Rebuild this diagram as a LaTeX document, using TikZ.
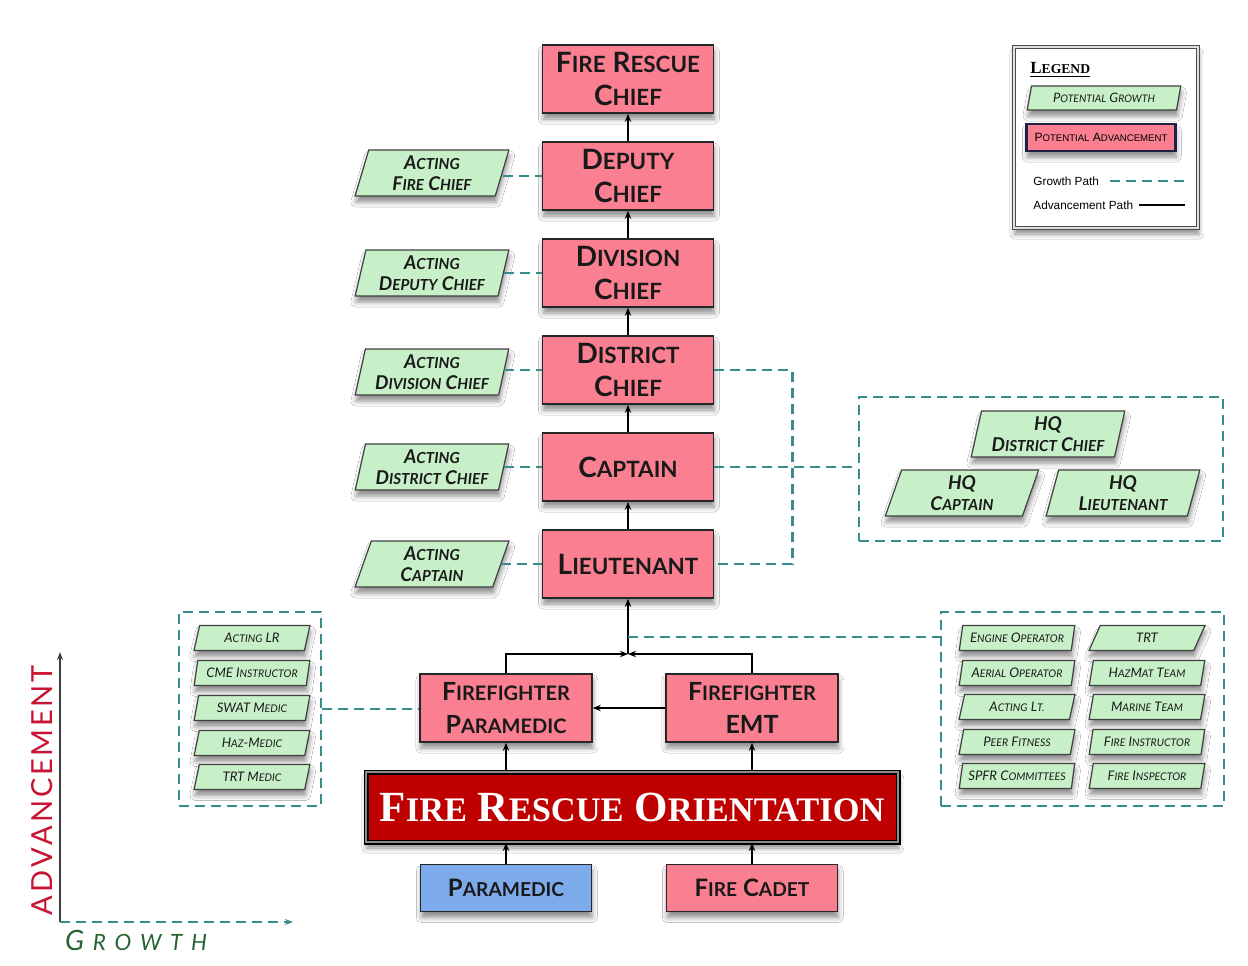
\documentclass[tikz,border=0pt]{standalone}
\usepackage{fontspec}
\newfontfamily\lato{Lato}
\newfontfamily\libsans{Liberation Sans}
\newfontfamily\libserif{Liberation Serif}
\usetikzlibrary{shapes.geometric,shadows.blur,arrows.meta}
\makeatletter
\newcommand\smc[1]{{\@tempdima=\f@size pt\relax\@tempdima=0.8\@tempdima\edef\smcsz{\strip@pt\@tempdima}\fontsize{\smcsz}{\smcsz}\selectfont #1}}
\makeatother
\definecolor{pinkc}{RGB}{250,128,145}
\definecolor{greenc}{RGB}{200,240,200}
\definecolor{bluec}{RGB}{125,170,235}
\definecolor{froc}{RGB}{190,0,0}
\definecolor{tealc}{RGB}{55,140,140}
\definecolor{advred}{RGB}{200,20,50}
\definecolor{grgreen}{RGB}{40,100,50}
\definecolor{navyc}{RGB}{30,35,70}
\begin{document}
\begin{tikzpicture}[x=0.5pt,y=-0.5pt,
  shad/.style={blur shadow={shadow xshift=0.4pt,shadow yshift=-3pt,shadow blur radius=2.5pt,shadow opacity=45}},
  advbox/.style={rectangle,draw=black!85,line width=0.8pt,fill=pinkc,text=black!90,minimum width=85.5pt,minimum height=34pt,inner sep=1pt,align=center,font=\lato\bfseries\fontsize{14}{16.5}\selectfont,shad},
  ffbox/.style={advbox,minimum width=86pt,font=\lato\bfseries\fontsize{12.5}{16.5}\selectfont},
  entrybox/.style={advbox,minimum height=23.5pt,font=\lato\bfseries\fontsize{12}{14}\selectfont},
  frobox/.style={rectangle,draw=black,line width=0.9pt,double=black!45,double distance=0.7pt,fill=froc,text=white,minimum width=266pt,minimum height=35pt,inner sep=1pt,font=\libserif\bfseries\fontsize{21.5}{24}\selectfont,shad},
  growbox/.style={trapezium,trapezium left angle=77,trapezium right angle=103,trapezium stretches=true,draw=black!75,line width=0.6pt,fill=greenc,text=black!90,minimum width=77pt,minimum height=23pt,inner sep=1pt,align=center,font=\lato\bfseries\itshape\fontsize{9.5}{10.5}\selectfont,shad},
  smallgrow/.style={growbox,minimum width=58pt,minimum height=12.5pt,font=\lato\itshape\fontsize{6.6}{7}\selectfont},
  gpath/.style={draw=tealc,line width=1.4pt,dash pattern=on 5pt off 3pt},
  apath/.style={draw=black,line width=0.75pt,-{Stealth[length=4pt,width=3.2pt]}},
  gbox/.style={rectangle,gpath,inner sep=0pt},
  legtext/.style={anchor=west,inner sep=0pt,font=\libsans\fontsize{5.9}{7}\selectfont}
]
\useasboundingbox (0,0) rectangle (1248,965);
\fill[white] (0,0) rectangle (1248,965);

% group boxes
\node[gbox,minimum width=182pt,minimum height=72pt] (hq) at (1041,469) {};
\node[gbox,minimum width=71pt,minimum height=97pt] (lg) at (250,709) {};
\node[gbox,minimum width=141.5pt,minimum height=97pt] (rg) at (1082.5,709) {};

% main ladder
\node[advbox] (frc) at (628,79) {F\smc{IRE} R\smc{ESCUE}\\C\smc{HIEF}};
\node[advbox] (dep) at (628,176) {D\smc{EPUTY}\\C\smc{HIEF}};
\node[advbox] (div) at (628,273) {D\smc{IVISION}\\C\smc{HIEF}};
\node[advbox] (dis) at (628,370) {D\smc{ISTRICT}\\C\smc{HIEF}};
\node[advbox] (cap) at (628,467) {C\smc{APTAIN}};
\node[advbox] (lt) at (628,564) {L\smc{IEUTENANT}};
\node[ffbox] (ffp) at (506,708) {F\smc{IREFIGHTER}\\P\smc{ARAMEDIC}};
\node[ffbox] (ffe) at (752,708) {F\smc{IREFIGHTER}\\EMT};
\node[frobox] (fro) at (632,807) {F\smc{IRE} R\smc{ESCUE} O\smc{RIENTATION}};
\node[entrybox,fill=bluec] (par) at (506,888) {P\smc{ARAMEDIC}};
\node[entrybox] (cad) at (752,888) {F\smc{IRE} C\smc{ADET}};

% acting boxes
\node[growbox] (ag1) at (432,173) {A\smc{CTING}\\F\smc{IRE} C\smc{HIEF}};
\node[growbox] (ag2) at (432,273) {A\smc{CTING}\\D\smc{EPUTY} C\smc{HIEF}};
\node[growbox] (ag3) at (432,372) {A\smc{CTING}\\D\smc{IVISION} C\smc{HIEF}};
\node[growbox] (ag4) at (432,467) {A\smc{CTING}\\D\smc{ISTRICT} C\smc{HIEF}};
\node[growbox] (ag5) at (432,564) {A\smc{CTING}\\C\smc{APTAIN}};

% HQ
\node[growbox] (hq1) at (1048,434) {HQ\\D\smc{ISTRICT} C\smc{HIEF}};
\node[growbox] (hq2) at (962,493) {HQ\\C\smc{APTAIN}};
\node[growbox] (hq3) at (1123,493) {HQ\\L\smc{IEUTENANT}};

% left group
\node[smallgrow] (l1) at (252,638) {A\smc{CTING} LR};
\node[smallgrow] (l2) at (252,673) {CME I\smc{NSTRUCTOR}};
\node[smallgrow] (l3) at (252,708) {SWAT M\smc{EDIC}};
\node[smallgrow] (l4) at (252,743) {H\smc{AZ}-M\smc{EDIC}};
\node[smallgrow] (l5) at (252,777) {TRT M\smc{EDIC}};

% right group
\node[smallgrow] (r1) at (1017,638) {E\smc{NGINE} O\smc{PERATOR}};
\node[smallgrow] (r2) at (1017,673) {A\smc{ERIAL} O\smc{PERATOR}};
\node[smallgrow] (r3) at (1017,707) {A\smc{CTING} L\smc{T.}};
\node[smallgrow] (r4) at (1017,742) {P\smc{EER} F\smc{ITNESS}};
\node[smallgrow] (r5) at (1017,776) {SPFR C\smc{OMMITTEES}};
\node[smallgrow] (s1) at (1147,638) {TRT};
\node[smallgrow] (s2) at (1147,673) {H\smc{AZ}M\smc{AT} T\smc{EAM}};
\node[smallgrow] (s3) at (1147,707) {M\smc{ARINE} T\smc{EAM}};
\node[smallgrow] (s4) at (1147,742) {F\smc{IRE} I\smc{NSTRUCTOR}};
\node[smallgrow] (s5) at (1147,776) {F\smc{IRE} I\smc{NSPECTOR}};

% advancement connectors
\draw[apath] (dep) -- (frc);
\draw[apath] (div) -- (dep);
\draw[apath] (dis) -- (div);
\draw[apath] (cap) -- (dis);
\draw[apath] (lt) -- (cap);
\coordinate (j) at (628,654);
\draw[apath] (ffp.north) |- (j);
\draw[apath] (ffe.north) |- (j);
\draw[apath] (j) -- (lt.south);
\draw[apath] (ffe.west) -- (ffp.east);
\draw[apath] (fro.north -| ffp.south) -- (ffp.south);
\draw[apath] (fro.north -| ffe.south) -- (ffe.south);
\draw[apath] (par.north) -- (par.north |- fro.south);
\draw[apath] (cad.north) -- (cad.north |- fro.south);

% growth connectors
\draw[gpath] (ag1.east |- dep.west) -- (dep.west);
\draw[gpath] (ag2.east |- div.west) -- (div.west);
\draw[gpath] (ag3.east |- dis.west) -- (dis.west);
\draw[gpath] (ag4.east |- cap.west) -- (cap.west);
\draw[gpath] (ag5.east |- lt.west) -- (lt.west);
\draw[gpath] (dis.east) -- ++(78,0) |- (lt.east);
\draw[gpath] (cap.east) -- (cap.east -| hq.west);
\coordinate (jd) at (628,637);
\draw[gpath] (jd) -- (jd -| rg.west);
\draw[gpath] (lg.east) -- (lg.east -| ffp.west);

% axes
\coordinate (O) at (60,922);
\coordinate (Yt) at (60,652);
\coordinate (Xt) at (293,922);
\draw[line width=0.6pt,black!75,-{Stealth[length=4pt,width=3pt]}] (O) -- (Yt);
\draw[gpath,line width=1.1pt,-{Stealth[length=4pt,width=3pt]}] (O) -- (Xt);
\node[rotate=90,text=advred,inner sep=0pt,font=\lato\fontsize{14.5}{15}\selectfont] (advl) at (42,790) {\makebox[125pt][s]{A\hfil D\hfil V\hfil A\hfil N\hfil C\hfil E\hfil M\hfil E\hfil N\hfil T}};
\node[text=grgreen,inner sep=0pt,font=\lato\itshape\fontsize{14}{15}\selectfont] (grl) at (136,940) {\makebox[71pt][s]{G\hfil\smc{R}\hfil\smc{O}\hfil\smc{W}\hfil\smc{T}\hfil\smc{H}}};

% legend
\node[rectangle,draw=black!70,line width=0.7pt,double=black!12,double distance=1pt,fill=white,minimum width=92pt,minimum height=90.5pt,shad] (leg) at (1106,137.5) {};
\node[anchor=west,inner sep=0pt,font=\libserif\bfseries\fontsize{8.5}{9}\selectfont] (legt) at (1030,70) {\underline{L\smc{EGEND}}};
\node[growbox,minimum width=77pt,minimum height=12pt,font=\lato\itshape\fontsize{6.5}{7}\selectfont] (lg1) at (1104,98) {P\smc{OTENTIAL} G\smc{ROWTH}};
\node[rectangle,draw=navyc,line width=1.2pt,fill=pinkc,minimum width=74.5pt,minimum height=13.5pt,inner sep=1pt,font=\libsans\fontsize{6}{7}\selectfont,shad] (lg2) at (1101,137.5) {P\smc{OTENTIAL} A\smc{DVANCEMENT}};
\node[legtext] (gp) at (1033,181) {Growth Path};
\node[legtext] (ap) at (1033,205) {Advancement Path};
\coordinate (gpa) at (1110,181);
\coordinate (gpb) at (1186,181);
\coordinate (apa) at (1139,205);
\coordinate (apb) at (1185,205);
\draw[gpath,line width=1.2pt] (gpa) -- (gpb);
\draw[black,line width=0.7pt] (apa) -- (apb);
\end{tikzpicture}
\end{document}
